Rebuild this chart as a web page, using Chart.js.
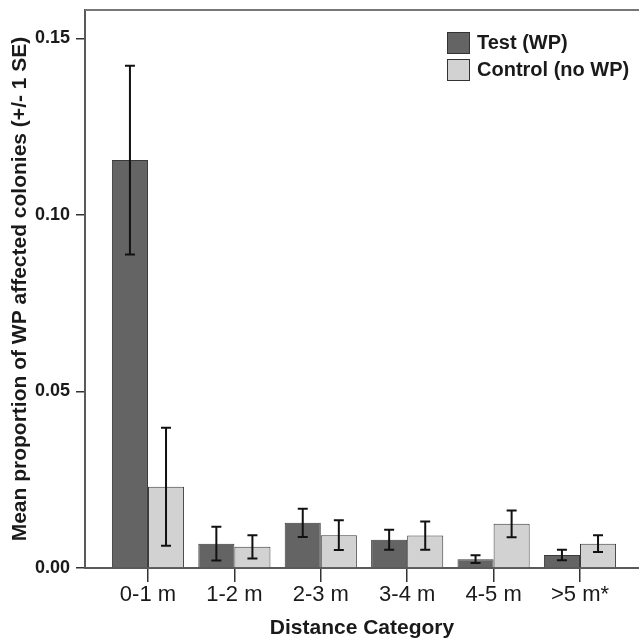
<!DOCTYPE html>
<html>
<head>
<meta charset="utf-8">
<title>WP affected colonies by distance</title>
<script src="https://cdn.jsdelivr.net/npm/chart.js@4.4.1/dist/chart.umd.min.js"></script>
<style>
  html, body { margin: 0; padding: 0; background: #fff; }
  #wrap { width: 639px; height: 638px; position: relative; }
</style>
</head>
<body>
<div id="wrap"><canvas id="chart"></canvas></div>
<script>
// distance categories along the x axis
const categories = ['0-1 m', '1-2 m', '2-3 m', '3-4 m', '4-5 m', '>5 m*'];

// mean proportion of WP affected colonies, and its standard error
const testMeans    = [0.1155, 0.0069, 0.0128, 0.0080, 0.0025, 0.0037];
const testSE       = [0.0267, 0.0048, 0.0040, 0.0028, 0.0011, 0.0015];
const controlMeans = [0.0230, 0.0060, 0.0093, 0.0092, 0.0125, 0.0069];
const controlSE    = [0.0167, 0.0033, 0.0042, 0.0040, 0.0038, 0.0024];

const yTicks = [0, 0.05, 0.10, 0.15];

const FONT = "'Liberation Sans', Arial, sans-serif";
const INK = '#1a1a1a';
const AXIS = '#5a5a5a';

// vertical +/- 1 SE whiskers on top of each bar
const errorBars = {
    id: 'errorBars',
    afterDatasetsDraw(chart) {
        const ctx = chart.ctx;
        const y = chart.scales.y;
        ctx.save();
        ctx.strokeStyle = '#111';
        ctx.lineWidth = 2;
        chart.data.datasets.forEach((ds, di) => {
            const meta = chart.getDatasetMeta(di);
            meta.data.forEach((bar, i) => {
                const m = ds.data[i].y;
                const se = ds.errors[i];
                const top = y.getPixelForValue(m + se);
                const bot = y.getPixelForValue(Math.max(0, m - se));
                const cap = 5;
                ctx.beginPath();
                ctx.moveTo(bar.x, top);
                ctx.lineTo(bar.x, bot);
                ctx.moveTo(bar.x - cap, top);
                ctx.lineTo(bar.x + cap, top);
                ctx.moveTo(bar.x - cap, bot);
                ctx.lineTo(bar.x + cap, bot);
                ctx.stroke();
            });
        });
        ctx.restore();
    }
};

// top edge of the plot frame + legend box in the upper right corner
const frameAndLegend = {
    id: 'frameAndLegend',
    afterDraw(chart) {
        const ctx = chart.ctx;
        const a = chart.chartArea;
        ctx.save();
        ctx.strokeStyle = '#777';
        ctx.lineWidth = 2;
        ctx.beginPath();
        ctx.moveTo(a.left, a.top);
        ctx.lineTo(a.right, a.top);
        ctx.stroke();

        const bx = a.right - 192;
        let by = a.top + 22;
        ctx.font = 'bold 20px ' + FONT;
        ctx.textBaseline = 'middle';
        ctx.textAlign = 'left';
        chart.data.datasets.forEach(ds => {
            ctx.fillStyle = ds.backgroundColor;
            ctx.fillRect(bx, by, 23, 22);
            ctx.strokeStyle = '#333';
            ctx.lineWidth = 1;
            ctx.strokeRect(bx + 0.5, by + 0.5, 22, 21);
            ctx.fillStyle = INK;
            ctx.fillText(ds.label, bx + 30, by + 11);
            by += 27;
        });
        ctx.restore();
    }
};

new Chart(document.getElementById('chart'), {
    type: 'bar',
    data: {
        datasets: [
            {
                label: 'Test (WP)',
                data: testMeans.map((v, i) => ({ x: i, y: v })),
                errors: testSE,
                backgroundColor: '#646464',
                borderColor: '#3a3a3a',
                borderWidth: 1,
                categoryPercentage: 0.835,
                barPercentage: 1
            },
            {
                label: 'Control (no WP)',
                data: controlMeans.map((v, i) => ({ x: i, y: v })),
                errors: controlSE,
                backgroundColor: '#d2d2d2',
                borderColor: '#3a3a3a',
                borderWidth: 1,
                categoryPercentage: 0.835,
                barPercentage: 1
            }
        ]
    },
    options: {
        responsive: true,
        maintainAspectRatio: false,
        animation: false,
        layout: { padding: { top: 10, right: 0, left: 0, bottom: 0 } },
        plugins: {
            legend: { display: false },
            tooltip: { enabled: false }
        },
        scales: {
            x: {
                type: 'linear',
                min: -0.729,
                max: 5.683,
                offset: false,
                afterBuildTicks: s => { s.ticks = categories.map((c, i) => ({ value: i })); },
                afterFit: s => { s.height = 70; s.paddingLeft = 0; s.paddingRight = 0; },
                grid: { offset: false, drawOnChartArea: false, drawTicks: true, tickLength: 14, tickColor: '#333', lineWidth: 1.5 },
                border: { display: true, color: AXIS, width: 2 },
                ticks: {
                    padding: 0,
                    color: INK,
                    font: { family: FONT, size: 22 },
                    maxRotation: 0,
                    autoSkip: false,
                    callback: v => categories[v]
                },
                title: {
                    display: true,
                    text: 'Distance Category',
                    color: INK,
                    font: { family: FONT, size: 21, weight: 'bold', lineHeight: 1 },
                    padding: { top: 0, bottom: -1 }
                }
            },
            y: {
                min: 0,
                max: 0.158,
                afterBuildTicks: s => { s.ticks = yTicks.map(v => ({ value: v })); },
                afterFit: s => { s.width = 85; s.paddingTop = 0; s.paddingBottom = 0; },
                grid: { drawOnChartArea: false, drawTicks: true, tickLength: 9, tickColor: '#333', lineWidth: 1.5 },
                border: { display: true, color: AXIS, width: 2 },
                ticks: {
                    padding: 6,
                    color: INK,
                    font: { family: FONT, size: 18, weight: 'bold' },
                    callback: v => v.toFixed(2)
                },
                title: {
                    display: true,
                    text: 'Mean proportion of WP affected colonies (+/- 1 SE)',
                    color: INK,
                    font: { family: FONT, size: 21, weight: 'bold', lineHeight: 1 },
                    padding: { top: 10, bottom: 0 }
                }
            }
        }
    },
    plugins: [errorBars, frameAndLegend]
});
</script>
</body>
</html>
